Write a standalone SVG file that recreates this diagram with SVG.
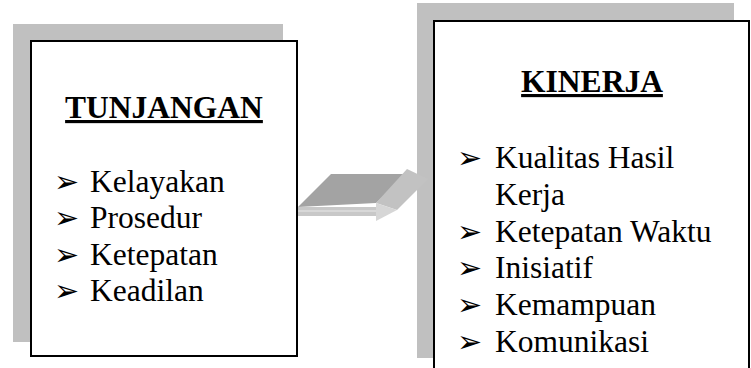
<svg xmlns="http://www.w3.org/2000/svg" width="751" height="368" viewBox="0 0 751 368">
  <style>
    .shadow { fill: #c0c0c0; }
    .box { fill: #ffffff; stroke: #000000; stroke-width: 2; }
    .serif { font-family: 'Liberation Serif', 'Times New Roman', Tinos, Times, serif; font-size: 31.5px; fill: #000; }
    .title { font-weight: bold; text-anchor: middle; text-decoration: underline; }
    .bullet { font-family: 'DejaVu Sans', sans-serif; font-size: 30px; fill: #000; }
  </style>

  <!-- left block: TUNJANGAN -->
  <g id="tunjangan">
    <rect class="shadow" x="13" y="24" width="270" height="318"/>
    <rect class="box" x="31" y="41" width="266" height="315"/>
    <text class="serif title" x="164" y="118">TUNJANGAN</text>
    <text class="bullet" x="54" y="192">➢</text>
    <text class="serif" x="90" y="192">Kelayakan</text>
    <text class="bullet" x="54" y="228">➢</text>
    <text class="serif" x="90" y="228">Prosedur</text>
    <text class="bullet" x="54" y="264.5">➢</text>
    <text class="serif" x="90" y="264.5">Ketepatan</text>
    <text class="bullet" x="54" y="300.5">➢</text>
    <text class="serif" x="90" y="300.5">Keadilan</text>
  </g>

  <!-- right block: KINERJA -->
  <g id="kinerja">
    <rect class="shadow" x="417" y="3" width="317" height="355"/>
    <rect class="box" x="434" y="21" width="315" height="360"/>
    <text class="serif title" x="592" y="92">KINERJA</text>
    <text class="bullet" x="457" y="168">➢</text>
    <text class="serif" x="495" y="168">Kualitas Hasil</text>
    <text class="serif" x="495" y="205">Kerja</text>
    <text class="bullet" x="457" y="241.5">➢</text>
    <text class="serif" x="495" y="241.5">Ketepatan Waktu</text>
    <text class="bullet" x="457" y="278">➢</text>
    <text class="serif" x="495" y="278">Inisiatif</text>
    <text class="bullet" x="457" y="315">➢</text>
    <text class="serif" x="495" y="315">Kemampuan</text>
    <text class="bullet" x="457" y="351.5">➢</text>
    <text class="serif" x="495" y="351.5">Komunikasi</text>
  </g>

  <!-- connector: flat 3D block arrow -->
  <g id="connectors">
    <polygon points="298,207 331,174 407,174 376,203" fill="#a3a3a3"/>
    <rect x="298" y="207" width="78" height="9" fill="#c8c8c8"/>
    <rect x="298" y="210" width="78" height="2" fill="#d8d8d8"/>
    <polygon points="376,203 407,169 428,179 397,210" fill="#c2c2c2"/>
    <polygon points="376,203 397,210 376,221" fill="#d6d6d6"/>
  </g>
</svg>
